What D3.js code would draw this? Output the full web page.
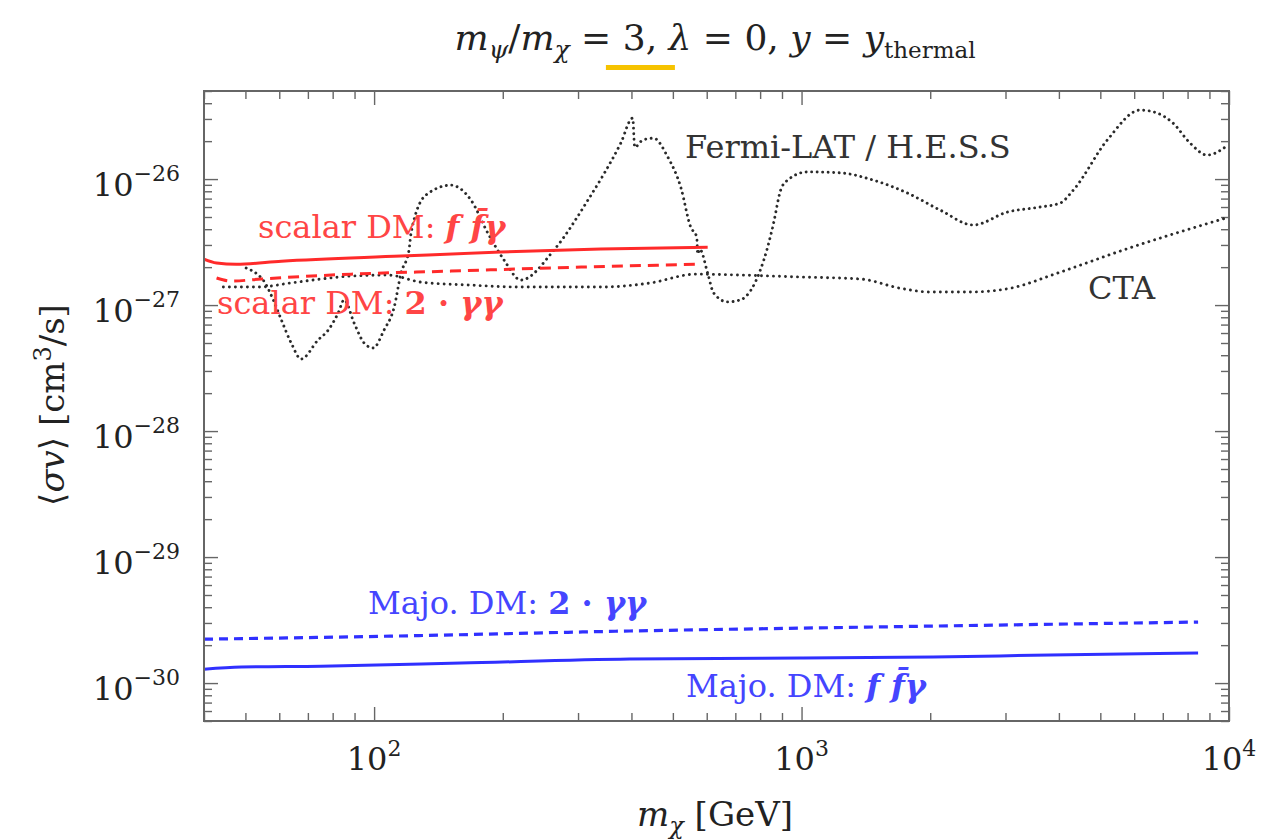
<!DOCTYPE html>
<html>
<head>
<meta charset="utf-8">
<script src="https://cdn.jsdelivr.net/npm/d3@7"></script>
<style>
  html, body { margin: 0; padding: 0; background: #fff; }
  svg { display: block; font-family: "DejaVu Serif", "Liberation Serif", serif; }
</style>
</head>
<body>
<svg id="chart" width="1280" height="840"></svg>
<script>
// masses in GeV, <sigma v> in cm^3/s
const fermiMass = [50.2, 53.6, 55.0, 58.1, 60.7, 64.0, 67.5, 73.9, 78.1, 82.4, 85.1, 89.8, 94.8, 99.5,
  105.5, 111.4, 115.6, 120.7, 122.0, 132.2, 151.3, 168.5, 184.6, 201.3, 220.4, 263.4, 316.4, 377.6,
  402.7, 407.1, 425.1, 450.6, 486.3, 521.6, 550.4, 568.6, 571.5, 577.8, 603.1, 622.5, 671.0, 719.6,
  801.1, 833.0, 860.2, 893.6, 927.3, 1033, 1233, 1473, 1770, 2111, 2522, 3029, 3616, 4028, 4323,
  5190, 6197, 6793, 7397, 8108, 8888, 9950];
const fermiSv = [1.97e-27, 1.73e-27, 1.58e-27, 1.10e-27, 7.6e-28, 4.99e-28, 3.73e-28, 5.27e-28, 6.33e-28,
  8.64e-28, 1.10e-27, 7.2e-28, 4.99e-28, 4.56e-28, 6.33e-28, 9.6e-28, 1.79e-27, 2.73e-27, 3.72e-27,
  7.47e-27, 8.95e-27, 6.81e-27, 3.72e-27, 2.28e-27, 1.58e-27, 2.73e-27, 6.81e-27, 1.93e-26, 3.05e-26,
  1.79e-26, 2.04e-26, 2.11e-26, 1.50e-26, 8.64e-27, 4.16e-27, 3.47e-27, 2.54e-27, 2.78e-27, 1.79e-27,
  1.25e-27, 1.06e-27, 1.10e-27, 1.90e-27, 2.88e-27, 4.48e-27, 8.18e-27, 9.8e-27, 1.14e-26, 1.12e-26,
  9.8e-27, 7.74e-27, 5.67e-27, 4.32e-27, 5.47e-27, 6.00e-27, 6.45e-27, 8.18e-27, 2.04e-26, 3.53e-26,
  3.34e-26, 2.78e-26, 1.93e-26, 1.55e-26, 1.86e-26];

const ctaMass = [44.4, 53.6, 64.0, 75.1, 88.4, 107.8, 128.8, 168.5, 220.4, 339.1, 443.6, 564.9, 719.6,
  995, 1374, 1703, 2001, 2483, 3077, 3963, 5651, 10000];
const ctaSv = [1.39e-27, 1.39e-27, 1.50e-27, 1.61e-27, 1.70e-27, 1.73e-27, 1.52e-27, 1.44e-27, 1.39e-27,
  1.39e-27, 1.50e-27, 1.76e-27, 1.73e-27, 1.67e-27, 1.61e-27, 1.36e-27, 1.27e-27, 1.27e-27, 1.36e-27,
  1.79e-27, 2.73e-27, 4.99e-27];

const scalarFfgMass = [40, 42.8, 47.6, 60.7, 115.6, 198.2, 339.1, 603.1];
const scalarFfgSv = [2.32e-27, 2.16e-27, 2.11e-27, 2.23e-27, 2.45e-27, 2.64e-27, 2.78e-27, 2.88e-27];

const scalarGgMass = [42.8, 46.3, 54.4, 88.4, 151.3, 259.2, 574.5];
const scalarGgSv = [1.64e-27, 1.55e-27, 1.61e-27, 1.76e-27, 1.86e-27, 1.97e-27, 2.11e-27];

const majoGgMass = [40, 111.4, 396.3, 1419, 8466];
const majoGgSv = [2.23e-30, 2.36e-30, 2.59e-30, 2.78e-30, 3.05e-30];

const majoFfgMass = [40, 48.9, 75.1, 159.7, 396.3, 995, 2032, 3819, 8466];
const majoFfgSv = [1.29e-30, 1.34e-30, 1.36e-30, 1.44e-30, 1.55e-30, 1.58e-30, 1.61e-30, 1.67e-30, 1.73e-30];

const xTickExps = [2, 3, 4];
const yTickExps = [-26, -27, -28, -29, -30];

const red = '#ff2a2a', blue = '#3030ff';

const svg = d3.select('#chart');
const pLeft = 204, pRight = 1229, pTop = 91, pBottom = 721;

const x = d3.scaleLog().domain([40, 1e4]).range([pLeft, pRight]);
const y = d3.scaleLog().domain([5e-31, 5e-26]).range([pBottom, pTop]);

svg.append('defs').append('clipPath').attr('id', 'plot')
  .append('rect').attr('x', pLeft).attr('y', pTop).attr('width', pRight - pLeft).attr('height', pBottom - pTop);

// ticks, all four sides pointing inward
const isMajor = v => Math.abs(Math.log10(v) - Math.round(Math.log10(v))) < 1e-6;
const xt = x.ticks(), yt = y.ticks();
const xMinor = xt.filter(v => !isMajor(v)), xMajor = xt.filter(isMajor);
const yMinor = yt.filter(v => !isMajor(v)), yMajor = yt.filter(isMajor);

function tickAxis(axisFn, scale, vals, len, tr) {
  const g = svg.append('g').attr('transform', tr)
    .call(axisFn(scale).tickValues(vals).tickSize(len).tickFormat(''));
  g.select('.domain').remove();
  g.selectAll('line').attr('stroke', '#666').attr('stroke-width', 1.4);
}
tickAxis(d3.axisBottom, x, xMinor, -8, `translate(0,${pBottom})`);
tickAxis(d3.axisBottom, x, xMajor, -14, `translate(0,${pBottom})`);
tickAxis(d3.axisTop, x, xMinor, -8, `translate(0,${pTop})`);
tickAxis(d3.axisTop, x, xMajor, -14, `translate(0,${pTop})`);
tickAxis(d3.axisLeft, y, yMinor, -8, `translate(${pLeft},0)`);
tickAxis(d3.axisLeft, y, yMajor, -14, `translate(${pLeft},0)`);
tickAxis(d3.axisRight, y, yMinor, -8, `translate(${pRight},0)`);
tickAxis(d3.axisRight, y, yMajor, -14, `translate(${pRight},0)`);

// curves
const line = d3.line().x(d => x(d[0])).y(d => y(d[1])).curve(d3.curveMonotoneX);
const zip = (a, b) => a.map((v, i) => [v, b[i]]);
const plot = svg.append('g').attr('clip-path', 'url(#plot)');

function draw(mass, sv, color, width, dash) {
  const p = plot.append('path').datum(zip(mass, sv)).attr('d', line)
    .attr('fill', 'none').attr('stroke', color).attr('stroke-width', width);
  if (dash) p.attr('stroke-dasharray', dash);
  return p;
}
draw(fermiMass, fermiSv, '#2a2a2a', 2.9, '0.01,5.5').attr('stroke-linecap', 'round');
draw(ctaMass, ctaSv, '#2a2a2a', 2.9, '0.01,6').attr('stroke-linecap', 'round');
draw(scalarFfgMass, scalarFfgSv, red, 3);
draw(scalarGgMass, scalarGgSv, red, 3, '11,7');
draw(majoGgMass, majoGgSv, blue, 3.2, '9,6');
draw(majoFfgMass, majoFfgSv, blue, 3);

// frame
svg.append('rect').attr('x', pLeft).attr('y', pTop).attr('width', pRight - pLeft).attr('height', pBottom - pTop)
  .attr('fill', 'none').attr('stroke', '#666').attr('stroke-width', 2);

// tick labels
yTickExps.forEach(e => {
  const t = svg.append('text').attr('x', 180).attr('y', y(Math.pow(10, e)) + 17)
    .attr('text-anchor', 'end').attr('font-size', 32).attr('fill', '#222');
  t.append('tspan').text('10');
  t.append('tspan').attr('dy', -15).attr('font-size', 22).text('\u2212' + Math.abs(e));
});
xTickExps.forEach(e => {
  const t = svg.append('text').attr('x', x(Math.pow(10, e))).attr('y', 770)
    .attr('text-anchor', 'middle').attr('font-size', 32).attr('fill', '#222');
  t.append('tspan').text('10');
  t.append('tspan').attr('dy', -14).attr('font-size', 22).text(e);
});

// axis titles
const xl = svg.append('text').attr('x', 715).attr('y', 826).attr('text-anchor', 'middle')
  .attr('font-size', 34).attr('fill', '#222');
xl.append('tspan').attr('font-style', 'italic').text('m');
xl.append('tspan').attr('font-style', 'italic').attr('font-size', 24).attr('dy', 8).text('\u03c7');
xl.append('tspan').attr('dy', -8).text(' [GeV]');

const yl = svg.append('text').attr('transform', 'translate(64,405) rotate(-90)').attr('text-anchor', 'middle')
  .attr('font-size', 34).attr('fill', '#222');
yl.append('tspan').text('\u27e8');
yl.append('tspan').attr('font-style', 'italic').text('\u03c3v');
yl.append('tspan').text('\u27e9 [cm');
yl.append('tspan').attr('dy', -13).attr('font-size', 24).text('3');
yl.append('tspan').attr('dy', 13).text('/s]');

// title
const tt = svg.append('text').attr('x', 715).attr('y', 50).attr('text-anchor', 'middle')
  .attr('font-size', 36).attr('fill', '#222');
tt.append('tspan').attr('font-style', 'italic').text('m');
tt.append('tspan').attr('font-style', 'italic').attr('font-size', 25).attr('dy', 8).text('\u03c8');
tt.append('tspan').attr('dy', -8).text('/');
tt.append('tspan').attr('font-style', 'italic').text('m');
tt.append('tspan').attr('font-style', 'italic').attr('font-size', 25).attr('dy', 8).text('\u03c7');
tt.append('tspan').attr('dy', -8).text(' = ');
const three = tt.append('tspan').text('3,');
tt.append('tspan').text(' ');
tt.append('tspan').attr('font-style', 'italic').text('\u03bb');
tt.append('tspan').text(' = 0, ');
tt.append('tspan').attr('font-style', 'italic').text('y');
tt.append('tspan').text(' = ');
tt.append('tspan').attr('font-style', 'italic').text('y');
tt.append('tspan').attr('font-size', 23).attr('dy', 8).text('thermal');

const tb = three.node().getBBox();
const cx = tb.x + tb.width / 2;
svg.append('rect').attr('x', cx - 34).attr('y', 65).attr('width', 69).attr('height', 5).attr('fill', '#f6c300');

// curve labels
function label(px, py, color, parts) {
  const t = svg.append('text').attr('x', px).attr('y', py).attr('font-size', 32).attr('fill', color);
  parts.forEach(p => {
    const s = t.append('tspan').text(p[0]);
    if (p[1] === 'b') s.attr('font-weight', 'bold');
    if (p[1] === 'bi') s.attr('font-weight', 'bold').attr('font-style', 'italic');
  });
  return t;
}
label(258, 238, '#ff4545', [['scalar DM: '], ['f f\u0304\u03b3', 'bi']]);
label(217, 314, '#ff4545', [['scalar DM: '], ['2 \u00b7 ', 'b'], ['\u03b3\u03b3', 'bi']]);
label(685, 158, '#333', [['Fermi-LAT / H.E.S.S']]);
label(1088, 299, '#333', [['CTA']]);
label(368, 614, '#4545ff', [['Majo. DM: '], ['2 \u00b7 ', 'b'], ['\u03b3\u03b3', 'bi']]);
label(686, 697, '#4545ff', [['Majo. DM: '], ['f f\u0304\u03b3', 'bi']]);
</script>
</body>
</html>
